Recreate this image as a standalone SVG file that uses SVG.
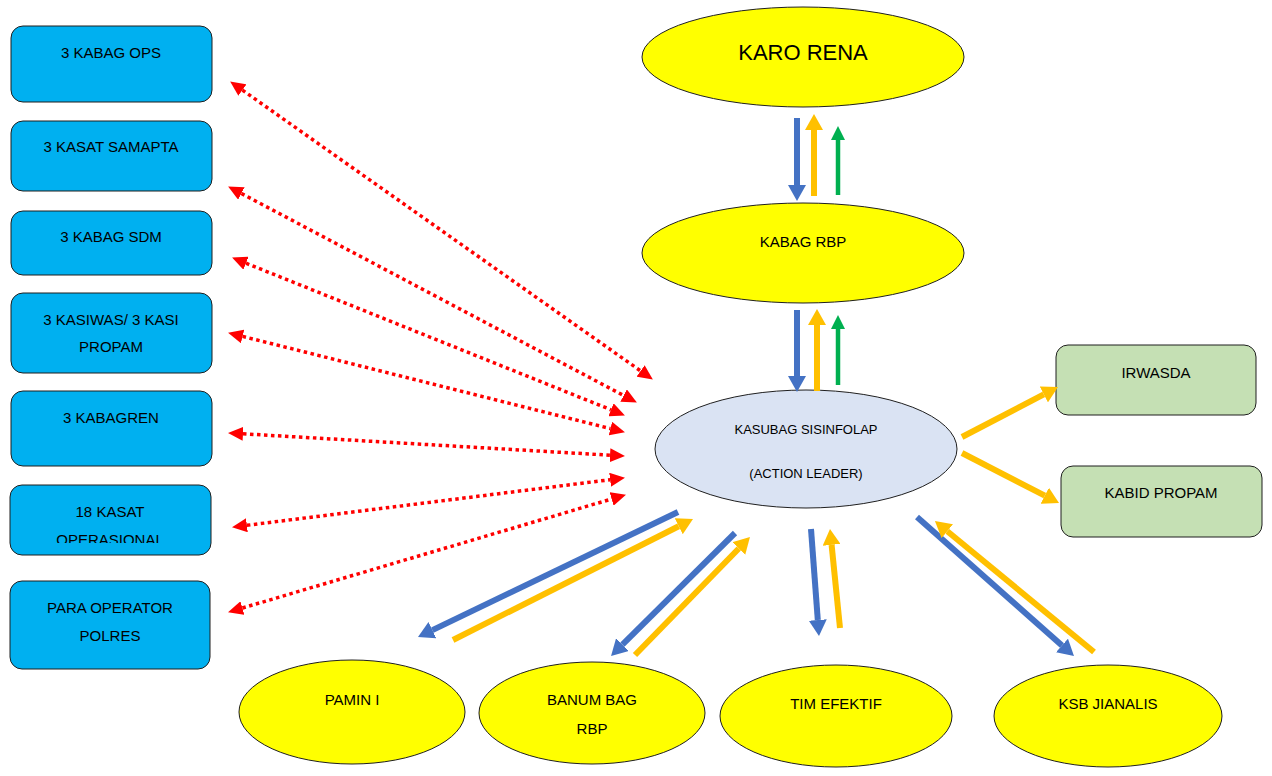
<svg xmlns="http://www.w3.org/2000/svg" width="1272" height="776" viewBox="0 0 1272 776">
<style>
.box{fill:#00B0F0;stroke:#1f1f1f;stroke-width:1}
.gbox{fill:#C5E0B4;stroke:#1f1f1f;stroke-width:1}
.yel{fill:#FFFF00;stroke:#1f1f1f;stroke-width:1}
.ctr{fill:#DAE3F3;stroke:#1f1f1f;stroke-width:1}
text{font-family:"Liberation Sans",Arial,sans-serif;font-size:15px;fill:#000;text-anchor:middle}
.big{font-size:22px}
.sm{font-size:13px}
.red{stroke:#FF0000;stroke-width:3.5;stroke-dasharray:3.5 3.5;fill:none;marker-start:url(#hr);marker-end:url(#hr)}
.bl{stroke:#4472C4;stroke-width:6;fill:none;marker-end:url(#hb)}
.yw{stroke:#FFC000;stroke-width:6;fill:none;marker-end:url(#hy)}
.gr{stroke:#00B050;stroke-width:4.5;fill:none;marker-end:url(#hg)}
</style>
<defs>
<marker id="hr" markerUnits="userSpaceOnUse" markerWidth="16" markerHeight="14" refX="0" refY="7" orient="auto-start-reverse" viewBox="0 0 16 14"><path d="M0,0 L15,7 L0,14 z" fill="#FF0000"/></marker>
<marker id="hb" markerUnits="userSpaceOnUse" markerWidth="17" markerHeight="18" refX="0" refY="9" orient="auto" viewBox="0 0 17 18"><path d="M0,0 L16,9 L0,18 z" fill="#4472C4"/></marker>
<marker id="hy" markerUnits="userSpaceOnUse" markerWidth="17" markerHeight="18" refX="0" refY="9" orient="auto" viewBox="0 0 17 18"><path d="M0,0 L16,9 L0,18 z" fill="#FFC000"/></marker>
<marker id="hg" markerUnits="userSpaceOnUse" markerWidth="15" markerHeight="14" refX="0" refY="7" orient="auto" viewBox="0 0 15 14"><path d="M0,0 L14,7 L0,14 z" fill="#00B050"/></marker>
<clipPath id="clip6"><rect x="10" y="485" width="202" height="58"/></clipPath>
</defs>

<g id="n-kabag-ops"><rect class="box" x="11" y="26" width="201" height="76" rx="12"/><text x="111" y="58">3 KABAG OPS</text></g>
<g id="n-kasat-samapta"><rect class="box" x="11" y="121" width="201" height="70" rx="12"/><text x="111" y="152">3 KASAT SAMAPTA</text></g>
<g id="n-kabag-sdm"><rect class="box" x="11" y="211" width="201" height="64" rx="12"/><text x="111" y="242">3 KABAG SDM</text></g>
<g id="n-kasiwas"><rect class="box" x="11" y="293" width="201" height="80" rx="12"/><text x="111" y="325">3 KASIWAS/ 3 KASI</text><text x="111" y="352">PROPAM</text></g>
<g id="n-kabagren"><rect class="box" x="11" y="391" width="201" height="75" rx="12"/><text x="111" y="423">3 KABAGREN</text></g>
<g id="n-kasat-ops"><rect class="box" x="10" y="485" width="201" height="70" rx="12"/><g clip-path="url(#clip6)"><text x="110" y="517">18 KASAT</text><text x="110" y="545">OPERASIONAL</text></g></g>
<g id="n-para-operator"><rect class="box" x="10" y="581" width="200" height="88" rx="12"/><text x="110" y="613">PARA OPERATOR</text><text x="110" y="641">POLRES</text></g>

<g id="n-irwasda"><rect class="gbox" x="1056" y="345" width="200" height="70" rx="12"/><text x="1156" y="378">IRWASDA</text></g>
<g id="n-kabid-propam"><rect class="gbox" x="1061" y="466" width="201" height="71" rx="12"/><text x="1161" y="498">KABID PROPAM</text></g>

<g id="n-karo-rena"><ellipse class="yel" cx="803" cy="57" rx="161" ry="50"/><text class="big" x="803" y="60">KARO RENA</text></g>
<g id="n-kabag-rbp"><ellipse class="yel" cx="803" cy="253" rx="161" ry="50"/><text x="803" y="247">KABAG RBP</text></g>
<g id="n-kasubag"><ellipse class="ctr" cx="806" cy="449" rx="151" ry="59"/><text class="sm" x="806" y="434">KASUBAG SISINFOLAP</text><text class="sm" x="806" y="478">(ACTION LEADER)</text></g>
<g id="n-pamin"><ellipse class="yel" cx="352" cy="712" rx="113" ry="52"/><text x="352" y="705">PAMIN I</text></g>
<g id="n-banum"><ellipse class="yel" cx="592" cy="713" rx="113" ry="51"/><text x="592" y="705">BANUM BAG</text><text x="592" y="734">RBP</text></g>
<g id="n-tim"><ellipse class="yel" cx="836" cy="716" rx="116" ry="51"/><text x="836" y="709">TIM EFEKTIF</text></g>
<g id="n-ksb"><ellipse class="yel" cx="1108" cy="716" rx="114" ry="51"/><text x="1108" y="709">KSB JIANALIS</text></g>

<g id="connectors">
<path class="red" d="M242.4,90.1 L640.6,370.9"/>
<path class="red" d="M241.4,193.5 L623.6,395.5"/>
<path class="red" d="M246,263.2 L611,409.8"/>
<path class="red" d="M242.6,336.4 L610.4,428.6"/>
<path class="red" d="M243,433.8 L610,455.2"/>
<path class="red" d="M246.9,525.3 L610.1,479.7"/>
<path class="red" d="M242.4,608 L611.6,499"/>

<path class="bl" d="M797,118 L797,185"/>
<path class="yw" d="M814,196 L814,130"/>
<path class="gr" d="M838,195 L838,140"/>
<path class="bl" d="M797,310 L797,376"/>
<path class="yw" d="M817,391 L817,325"/>
<path class="gr" d="M838,385 L838,329"/>

<path class="yw" d="M962,437 L1043.8,394.4"/>
<path class="yw" d="M962,453 L1044.8,495.7"/>

<path class="bl" d="M678,512 L432.4,630.1"/>
<path class="yw" d="M453,640 L678.7,526.2"/>
<path class="bl" d="M735,533 L622.4,644.7"/>
<path class="yw" d="M635,655 L738.8,548.5"/>
<path class="bl" d="M811,529 L817.8,620"/>
<path class="yw" d="M840,628 L831.6,544.9"/>
<path class="bl" d="M917,517 L1062,645.4"/>
<path class="yw" d="M1094,652 L947.3,531.2"/>
</g>
</svg>
